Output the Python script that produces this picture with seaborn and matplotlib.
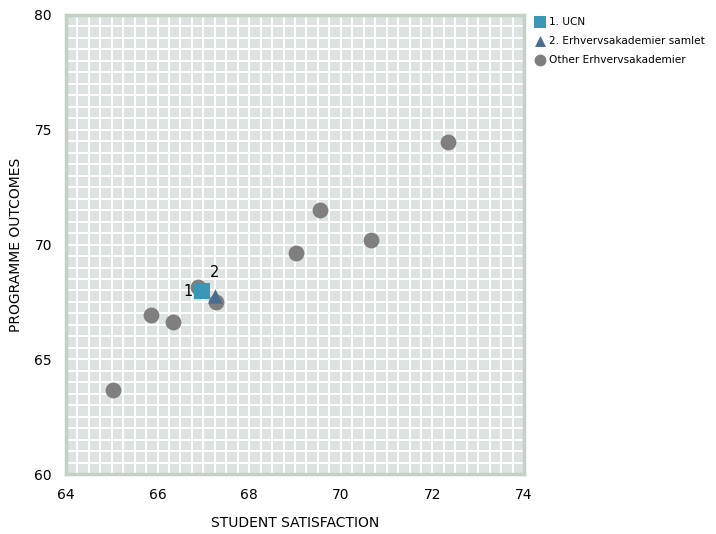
import pandas as pd
import numpy as np
import matplotlib
matplotlib.use("Agg")
import matplotlib.pyplot as plt
import seaborn as sb
from matplotlib.ticker import MultipleLocator

# data
names = ["1. UCN", "2. Erhvervsakademier samlet",
         "Other Erhvervsakademier", "Other Erhvervsakademier",
         "Other Erhvervsakademier", "Other Erhvervsakademier",
         "Other Erhvervsakademier", "Other Erhvervsakademier",
         "Other Erhvervsakademier", "Other Erhvervsakademier",
         "Other Erhvervsakademier"]
satisfaction = [66.97, 67.25, 65.03, 65.86, 66.34, 66.88, 67.28, 69.02, 69.55, 70.66, 72.34]
outcomes = [67.97, 67.75, 63.66, 66.93, 66.62, 68.15, 67.5, 69.63, 71.5, 70.2, 74.47]
point_labels = ["1", "2"]

df = pd.DataFrame({"grp": names, "x": satisfaction, "y": outcomes})

sb.set_style("white")
plt.rcParams['font.family'] = ['DejaVu Sans']
plt.rcParams['text.color'] = 'black'
plt.rcParams['axes.labelcolor'] = 'black'
plt.rcParams['xtick.color'] = 'black'
plt.rcParams['ytick.color'] = 'black'

fig = plt.figure(figsize=(7.16, 5.34), dpi=100)
ax = fig.add_axes([0.092, 0.112, 0.64, 0.86])
ax.set_facecolor("#dde3e0")

order = ["1. UCN", "2. Erhvervsakademier samlet", "Other Erhvervsakademier"]
colors = {"1. UCN": "#3b97b6", "2. Erhvervsakademier samlet": "#4a6c8e",
          "Other Erhvervsakademier": "#7f7f7f"}
marks = {"1. UCN": "s", "2. Erhvervsakademier samlet": "^",
         "Other Erhvervsakademier": "o"}
sizes = {"1. UCN": 120, "2. Erhvervsakademier samlet": 110,
         "Other Erhvervsakademier": 130}

# others first so highlighted points sit on top
for g in order[::-1]:
    sub = df[df.grp == g]
    sb.scatterplot(data=sub, x="x", y="y", ax=ax, color=colors[g], marker=marks[g],
                   s=sizes[g], linewidth=0, label=g, zorder=3)

ax.text(satisfaction[0] - 0.2, outcomes[0], point_labels[0], ha="right", va="center", fontsize=10.5)
ax.text(satisfaction[1], outcomes[1] + 0.7, point_labels[1], ha="center", va="bottom", fontsize=10.5)

ax.set_xlim(64, 74)
ax.set_ylim(60, 80)
ax.xaxis.set_major_locator(MultipleLocator(2))
ax.yaxis.set_major_locator(MultipleLocator(5))
ax.xaxis.set_minor_locator(MultipleLocator(0.25))
ax.yaxis.set_minor_locator(MultipleLocator(0.5))
ax.grid(which="both", color="white", linewidth=1.4)
ax.set_axisbelow(True)
ax.tick_params(which="both", length=0, labelsize=10, pad=10)
for s in ax.spines.values():
    s.set_color("#c4d1c7")
    s.set_linewidth(2.5)

ax.set_xlabel("STUDENT SATISFACTION", fontsize=10, labelpad=10)
ax.set_ylabel("PROGRAMME OUTCOMES", fontsize=10, labelpad=8)

h, l = ax.get_legend_handles_labels()
hd = dict(zip(l, h))
ax.legend([hd[k] for k in order], order, loc="upper left", bbox_to_anchor=(1.01, 1.01),
          frameon=False, fontsize=7.6, handletextpad=0.3, labelspacing=0.85,
          borderaxespad=0.2, handlelength=1.0, markerscale=0.75)

fig.savefig("out.png", dpi=100)
